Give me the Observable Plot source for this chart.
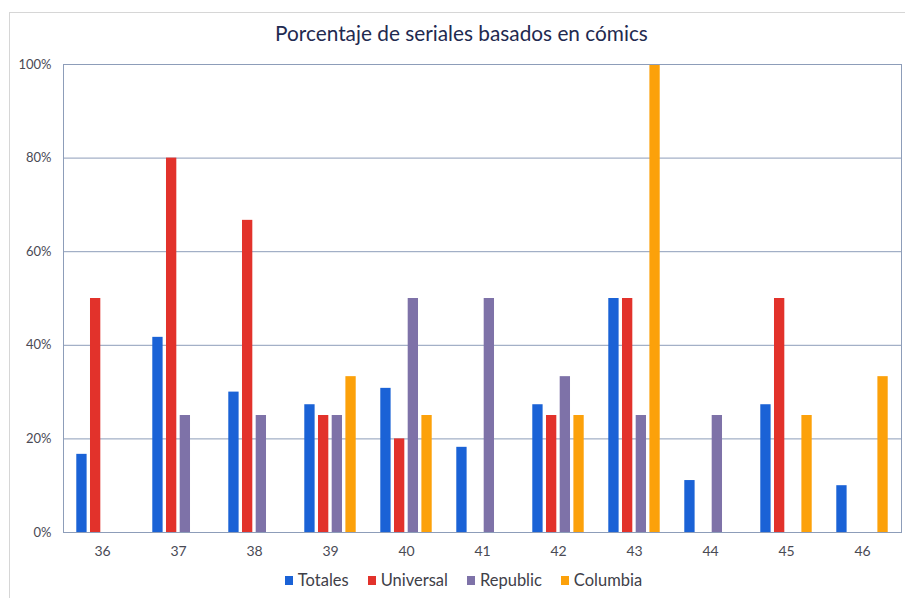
<!DOCTYPE html>
<html>
<head>
<meta charset="utf-8">
<script src="https://cdn.jsdelivr.net/npm/d3@7"></script>
<script src="https://cdn.jsdelivr.net/npm/@observablehq/plot@0.6"></script>
<style>
  html, body { margin: 0; padding: 0; background: #fff; overflow: hidden; }
  #wrap { position: relative; width: 905px; height: 598px; overflow: hidden; font-family: Lato, "Open Sans", sans-serif; }
  #border { position: absolute; left: 9px; top: 12px; width: 905px; height: 600px; border: 1px solid #d6d6d6; box-sizing: border-box; }
  #title { position: absolute; left: 0; width: 905px; top: 20px; text-align: center; font-size: 20.8px; color: #1f2a50; padding-left: 18px; box-sizing: border-box; }
  #chart { position: absolute; left: 0; top: 0; width: 905px; }
  #legend { position: absolute; left: 0; width: 905px; top: 570px; display: flex; justify-content: center; gap: 19px; font-size: 16.5px; color: #404048; padding-left: 22px; box-sizing: border-box; }
  .item { display: flex; align-items: center; gap: 5px; }
  .sw { width: 8px; height: 9px; display: inline-block; }
</style>
</head>
<body>
<div id="wrap">
  <div id="border"></div>
  <div id="chart"></div>
  <div id="title">Porcentaje de seriales basados en cómics</div>
  <div id="legend"></div>
</div>
<script>
const years = ["36","37","38","39","40","41","42","43","44","45","46"];
const seriesNames = ["Totales","Universal","Republic","Columbia"];
const totales   = [16.7, 41.7, 30, 27.3, 30.8, 18.2, 27.3, 50, 11.1, 27.3, 10];
const universal = [50, 80, 66.7, 25, 20, null, 25, 50, null, 50, null];
const republic  = [null, 25, 25, 25, 50, 50, 33.3, 25, 25, null, null];
const columbia  = [null, null, null, 33.3, 25, null, 25, 100, null, 25, 33.3];
const yTicks = [0, 20, 40, 60, 80, 100];
const colors = ["#1a62d6", "#e2322b", "#7e72a8", "#fca10a"];
const gridColor = "#8d9db9";

const seriesValues = [totales, universal, republic, columbia];
const rows = seriesValues.map((vals, i) =>
  years.map((y, j) => ({year: y, series: seriesNames[i], value: vals[j]})).filter(d => d.value != null)
);

const width = 905, marginLeft = 63, marginRight = 4;
const band = (width - marginLeft - marginRight) / years.length;
const barW = 10.5, pitch = 13.7;
const inset = (band - barW) / 2;

const marks = [
  Plot.ruleY([20, 40, 60, 80], {stroke: gridColor, strokeWidth: 1}),
  ...rows.map((data, i) => Plot.barY(data, {
    x: "year", y: "value", fill: colors[i],
    insetLeft: inset, insetRight: inset,
    dx: (i - 1.5) * pitch
  })),
  Plot.frame({stroke: gridColor, strokeWidth: 1})
];

const plot = Plot.plot({
  width, height: 598,
  marginTop: 64, marginBottom: 66, marginLeft, marginRight,
  style: {fontFamily: "Lato, 'Open Sans', sans-serif", color: "#4a4a55", background: "transparent", maxWidth: "none"},
  x: {domain: years, padding: 0, tickSize: 0, tickPadding: 14, label: null},
  y: {domain: [0, 100], ticks: yTicks, tickSize: 0, tickPadding: 12, tickFormat: d => d + "%", label: null},
  marks
});
plot.querySelectorAll("[aria-label='x-axis tick label'] text, [aria-label='x-axis'] text").forEach(t => t.style.fontSize = "14px");
plot.querySelectorAll("[aria-label='y-axis tick label'] text, [aria-label='y-axis'] text").forEach(t => t.style.fontSize = "13px");
document.getElementById("chart").appendChild(plot);

const legend = document.getElementById("legend");
seriesNames.forEach((n, i) => {
  const it = document.createElement("div");
  it.className = "item";
  it.innerHTML = `<span class="sw" style="background:${colors[i]}"></span><span>${n}</span>`;
  legend.appendChild(it);
});
</script>
</body>
</html>
